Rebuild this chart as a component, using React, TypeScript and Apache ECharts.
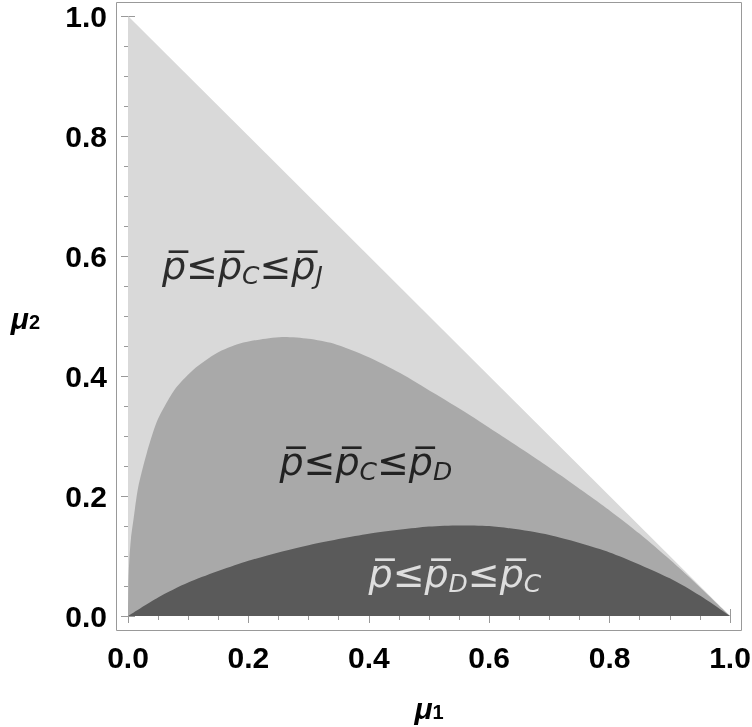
import React, { useEffect, useRef } from "react";
import * as echarts from "echarts";

// ---- data ----
const triangleX = [0, 1];
const triangleY = [1, 0];
const upperCurveX = [0, 0.0005, 0.002, 0.005, 0.009, 0.017, 0.031, 0.048, 0.065, 0.081, 0.109, 0.147, 0.186, 0.22, 0.26, 0.3, 0.341, 0.396, 0.452, 0.507, 0.563, 0.618, 0.68, 0.718, 0.76, 0.8, 0.85, 0.9, 0.95, 1];
const upperCurveY = [0, 0.05, 0.09, 0.13, 0.16, 0.215, 0.271, 0.324, 0.357, 0.382, 0.411, 0.438, 0.454, 0.461, 0.465, 0.462, 0.454, 0.433, 0.405, 0.372, 0.338, 0.302, 0.261, 0.235, 0.205, 0.176, 0.137, 0.094, 0.048, 0];
const lowerCurveX = [0, 0.05, 0.1, 0.2, 0.3, 0.4, 0.5, 0.55, 0.6, 0.7, 0.8, 0.9, 0.95, 1];
const lowerCurveY = [0, 0.031, 0.056, 0.092, 0.118, 0.137, 0.149, 0.151, 0.15, 0.135, 0.106, 0.063, 0.034, 0];
const regionLabelText = [
  "{b|p\u0305≤p\u0305}{s|C}{b|≤p\u0305}{s|J}",
  "{b|p\u0305≤p\u0305}{s|C}{b|≤p\u0305}{s|D}",
  "{b|p\u0305≤p\u0305}{s|D}{b|≤p\u0305}{s|C}",
];
const regionLabelPos = [
  [0.19, 0.588],
  [0.395, 0.262],
  [0.543, 0.075],
];
const regionLabelColor = ["#000000", "#000000", "#ffffff"];

const zip = (xs: number[], ys: number[]) => xs.map((x, i) => [x, ys[i]]);

const FRAME = "#999999";

export default function App() {
  const ref = useRef<HTMLDivElement>(null);
  useEffect(() => {
    const chart = echarts.init(ref.current!, undefined, { renderer: "svg" });
    const labelFont = "'Liberation Sans', Arial, sans-serif";
    const commonAxis = {
      type: "value" as const,
      min: 0,
      max: 1,
      interval: 0.2,
      axisLine: { show: false },
      splitLine: { show: false },
      axisTick: { show: true, inside: true, length: 7, lineStyle: { color: FRAME, width: 1 } },
      minorTick: { show: true, splitNumber: 4, length: 4, lineStyle: { color: FRAME, width: 1 } },
    };
    const tickLabel = {
      fontSize: 30,
      fontWeight: "bold" as const,
      color: "#000",
      fontFamily: labelFont,
      formatter: (v: number) => v.toFixed(1),
    };
    const nameRich = {
      m: { fontSize: 30, fontWeight: "bold", fontStyle: "italic", fontFamily: labelFont, color: "#000", lineHeight: 34, verticalAlign: "bottom" },
      s: { fontSize: 20, fontWeight: "bold", fontFamily: labelFont, color: "#000", lineHeight: 10, verticalAlign: "top", padding: [13, 0, 0, 0] },
    };
    const regionRich = (color: string) => ({
      b: { fontSize: 38, fontStyle: "italic", fontFamily: "'DejaVu Sans', sans-serif", color, lineHeight: 44, verticalAlign: "bottom" },
      s: { fontSize: 25, fontStyle: "italic", fontFamily: "'DejaVu Sans', sans-serif", color, lineHeight: 10, verticalAlign: "top", padding: [22, 0, 0, 0] },
    });
    chart.setOption({
      animation: false,
      grid: { left: 128, right: 22, top: 16, bottom: 111, outerBoundsMode: "none", containLabel: false },
      xAxis: [
        {
          ...commonAxis,
          position: "bottom",
          offset: 14,
          axisLabel: { ...tickLabel, margin: 12 },
          name: "{m|μ}{s|1}",
          nameLocation: "middle",
          nameGap: 59,
          nameTextStyle: { rich: nameRich },
        },
        { ...commonAxis, position: "top", offset: 14, axisLabel: { show: false } },
      ],
      yAxis: [
        {
          ...commonAxis,
          position: "left",
          offset: 12,
          axisLabel: { ...tickLabel, margin: 9 },
          name: "{m|μ}{s|2}",
          nameLocation: "middle",
          nameRotate: 0,
          nameGap: 76,
          nameTextStyle: { rich: nameRich },
        },
        { ...commonAxis, position: "right", offset: 11, axisLabel: { show: false } },
      ],
      graphic: [
        {
          type: "rect",
          shape: { x: 116.5, y: 2.5, width: 625, height: 628 },
          style: { fill: "transparent", stroke: FRAME, lineWidth: 1 },
          z: 100,
        },
      ],
      series: [
        {
          type: "line",
          data: zip(triangleX, triangleY),
          symbol: "none",
          lineStyle: { width: 0 },
          areaStyle: { color: "#d9d9d9", opacity: 1 },
          z: 1,
        },
        {
          type: "line",
          data: zip(upperCurveX, upperCurveY),
          symbol: "none",
          smooth: 0.25,
          lineStyle: { width: 0 },
          areaStyle: { color: "#a9a9a9", opacity: 1 },
          z: 2,
        },
        {
          type: "line",
          data: zip(lowerCurveX, lowerCurveY),
          symbol: "none",
          smooth: 0.25,
          lineStyle: { width: 0 },
          areaStyle: { color: "#5a5a5a", opacity: 1 },
          z: 3,
        },
        ...regionLabelPos.map((p, i) => ({
          type: "scatter",
          data: [p],
          symbolSize: 0,
          z: 10,
          label: {
            show: true,
            position: "inside",
            formatter: regionLabelText[i],
            rich: regionRich(regionLabelColor[i]),
          },
        })),
      ],
    });
    return () => chart.dispose();
  }, []);
  return <div ref={ref} style={{ position: "fixed", left: 0, top: 0, width: 752, height: 727 }} />;
}
